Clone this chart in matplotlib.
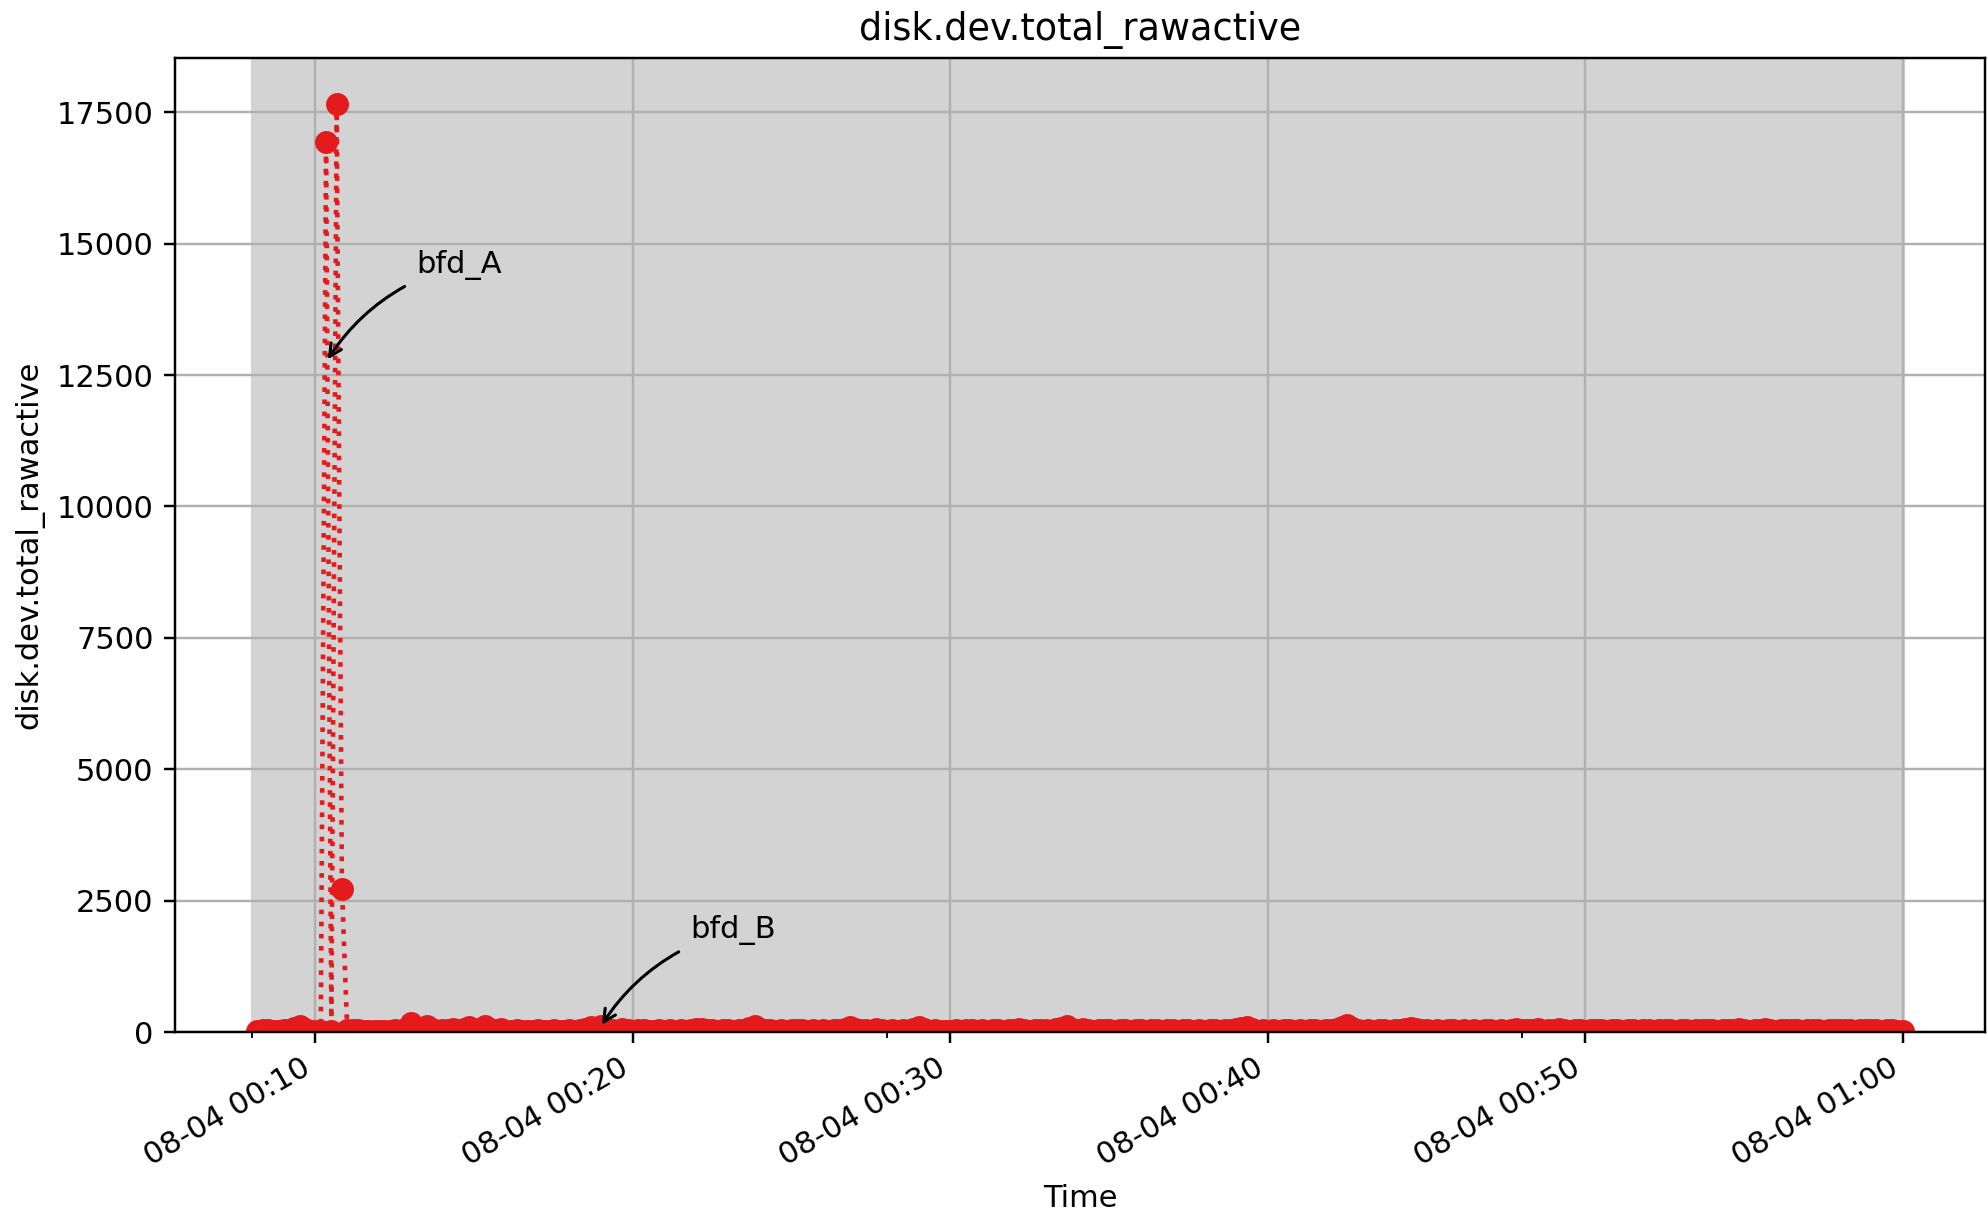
import matplotlib
matplotlib.use("Agg")
import matplotlib.pyplot as plt
import matplotlib.dates as mdates
import pandas as pd

# sampled every 10 s, 00:08:10 .. 01:00:00
start_time = "2024-08-04 00:08:10"
end_time = "2024-08-04 01:00:00"
values = [
    20, 35, 45, 25, 15, 30, 40, 70, 105, 60, 25, 20,
    15, 16940, 25, 17650, 2730, 35, 45, 30, 20, 25, 15, 20,
    25, 20, 30, 15, 60, 170, 80, 40, 105, 55, 25, 35,
    45, 60, 30, 50, 90, 40, 60, 105, 55, 30, 60, 25,
    20, 30, 15, 25, 20, 30, 25, 20, 35, 15, 25, 30,
    20, 40, 55, 90, 45, 110, 40, 30, 25, 60, 30, 20,
    35, 45, 20, 25, 40, 15, 30, 20, 35, 25, 40, 60,
    55, 30, 45, 20, 30, 40, 25, 35, 45, 70, 105, 60,
    30, 45, 25, 35, 20, 40, 30, 45, 25, 35, 20, 30,
    25, 40, 35, 60, 90, 55, 30, 40, 25, 60, 35, 20,
    30, 25, 40, 20, 55, 90, 50, 25, 30, 20, 15, 25,
    30, 20, 40, 45, 25, 35, 20, 30, 40, 25, 35, 30,
    60, 35, 25, 40, 30, 45, 20, 55, 80, 110, 60, 45,
    60, 30, 25, 40, 35, 45, 25, 30, 40, 20, 35, 45,
    25, 35, 45, 20, 30, 40, 25, 45, 30, 20, 35, 25,
    30, 40, 20, 35, 45, 60, 75, 90, 50, 25, 30, 20,
    35, 25, 40, 30, 20, 35, 25, 30, 40, 20, 30, 45,
    60, 100, 130, 70, 30, 25, 35, 20, 30, 40, 25, 35,
    45, 60, 75, 50, 30, 40, 25, 35, 20, 30, 40, 25,
    30, 20, 35, 25, 40, 30, 20, 35, 25, 40, 50, 35,
    45, 30, 50, 25, 35, 40, 60, 30, 25, 40, 30, 20,
    35, 45, 30, 25, 40, 30, 20, 35, 45, 25, 30, 40,
    25, 35, 45, 30, 20, 40, 30, 25, 45, 35, 30, 40,
    25, 45, 35, 30, 50, 40, 25, 35, 45, 60, 30, 25,
    40, 30, 35, 45, 25, 40, 30, 35, 25, 40, 30, 35,
    45, 30, 25, 40, 35, 30, 45, 25, 35, 30, 25, 20,
]
times = pd.date_range(start_time, end_time, freq="10s")

# shaded window
span_start = "2024-08-04 00:08:00"
span_end = "2024-08-04 01:00:00"

# annotations
annot_labels = ["bfd_A", "bfd_B"]
annot_times = ["2024-08-04 00:10:17", "2024-08-04 00:18:55"]
annot_values = [12700, 40]

minor_ticks = ["2024-08-04 00:08", "2024-08-04 00:28", "2024-08-04 00:48"]

metric = "disk.dev.total_rawactive"

DPI = 220
fig = plt.figure(figsize=(1988 / DPI, 1216 / DPI), dpi=DPI)
ax = fig.add_axes([175 / 1988, 1 - 1032 / 1216, (1985 - 175) / 1988, (1032 - 58) / 1216])

ax.plot(times, values, linestyle=":", marker="o", color="#e41a1c", markersize=6.5, linewidth=1.5)
xl = ax.get_xlim()
ax.axvspan(pd.Timestamp(span_start), pd.Timestamp(span_end), color="lightgray", zorder=0.9)
ax.set_xlim(xl)

for lab, t, v in zip(annot_labels, annot_times, annot_values):
    ax.annotate(lab, xy=(pd.Timestamp(t), v), xytext=(30, 30), textcoords="offset points",
                arrowprops=dict(arrowstyle="->", connectionstyle="arc3,rad=0.2", color="black"))

ax.set_ylim(bottom=0)
ax.grid(True)
ax.xaxis.set_major_locator(mdates.MinuteLocator(byminute=[0, 10, 20, 30, 40, 50]))
ax.xaxis.set_major_formatter(mdates.DateFormatter("%m-%d %H:%M"))
ax.xaxis.set_minor_locator(matplotlib.ticker.FixedLocator(mdates.date2num(pd.to_datetime(minor_ticks))))
for lbl in ax.get_xticklabels():
    lbl.set_rotation(30)
    lbl.set_ha("right")

ax.set_title(metric)
ax.set_xlabel("Time")
ax.set_ylabel(metric)

fig.savefig("out.png", dpi=DPI)
